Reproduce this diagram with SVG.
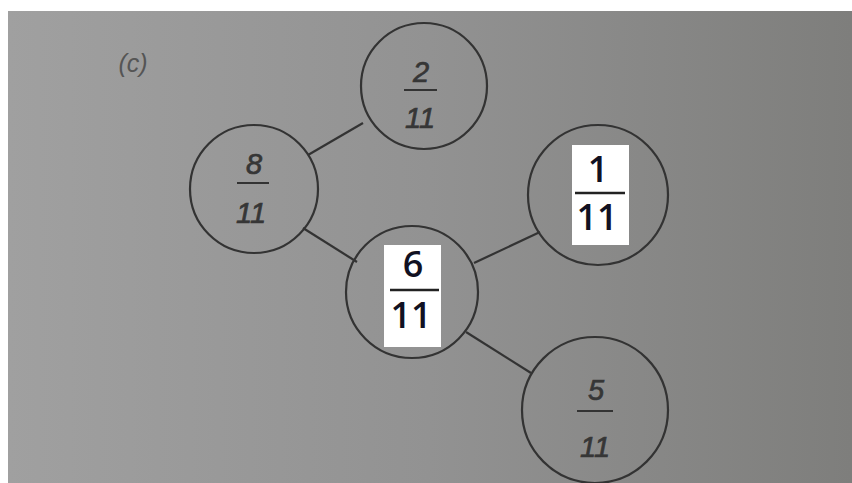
<svg xmlns="http://www.w3.org/2000/svg" width="852" height="483" viewBox="0 0 852 483">
  <defs>
    <linearGradient id="paper" x1="0" y1="0" x2="1" y2="0">
      <stop offset="0" stop-color="#a0a0a0"/>
      <stop offset="0.5" stop-color="#929292"/>
      <stop offset="1" stop-color="#7e7e7c"/>
    </linearGradient>
    <style>
      .ring { fill: none; stroke: #333333; stroke-width: 2.2; }
      .edge { stroke: #333333; stroke-width: 2.2; }
      .hand { font-family: "Liberation Sans", "DejaVu Sans", sans-serif; font-style: italic; font-size: 29px; fill: #363636; stroke: #363636; stroke-width: 0.7; text-anchor: middle; }
      .bar { stroke: #333333; stroke-width: 2; }
      .card { fill: #ffffff; }
      .print { font-family: "Open Sans", "Liberation Sans", sans-serif; font-size: 36px; fill: #111122; text-anchor: middle; font-weight: 600; }
      .pbar { stroke: #222222; stroke-width: 2.5; }
    </style>
  </defs>

  <!-- page -->
  <rect x="0" y="0" width="852" height="483" fill="#ffffff"/>
  <rect x="8" y="11" width="844" height="472" fill="url(#paper)"/>

  <text x="133" y="72" font-family="Liberation Sans, sans-serif" font-style="italic" font-size="25" fill="#555555" text-anchor="middle">(c)</text>

  <!-- connectors -->
  <g id="connectors">
    <line class="edge" x1="308" y1="155" x2="363" y2="123"/>
    <line class="edge" x1="303" y1="228" x2="357" y2="262"/>
    <line class="edge" x1="474" y1="263" x2="540" y2="232"/>
    <line class="edge" x1="466" y1="332" x2="531" y2="373"/>
  </g>

  <g id="node-2-11">
    <circle class="ring" cx="424" cy="86" r="63"/>
    <text class="hand" x="421" y="82">2</text>
    <line class="bar" x1="404" y1="90" x2="437" y2="90"/>
    <text class="hand" x="420" y="128">11</text>
  </g>

  <g id="node-8-11">
    <circle class="ring" cx="254" cy="189" r="64"/>
    <text class="hand" x="254" y="174">8</text>
    <line class="bar" x1="237" y1="183" x2="269" y2="183"/>
    <text class="hand" x="251" y="223">11</text>
  </g>

  <g id="node-6-11">
    <circle class="ring" cx="412" cy="292" r="66"/>
    <rect class="card" x="384" y="245" width="57" height="102"/>
    <text class="print" x="413" y="277">6</text>
    <line class="pbar" x1="390" y1="290" x2="439" y2="290"/>
    <text class="print" x="411" y="328">11</text>
  </g>

  <g id="node-1-11">
    <circle class="ring" cx="598" cy="195" r="70"/>
    <rect class="card" x="572" y="145" width="57" height="100"/>
    <text class="print" x="598" y="182">1</text>
    <line class="pbar" x1="575" y1="193" x2="625" y2="193"/>
    <text class="print" x="597" y="230">11</text>
  </g>

  <g id="node-5-11">
    <circle class="ring" cx="595" cy="410" r="73"/>
    <text class="hand" x="596" y="400">5</text>
    <line class="bar" x1="577" y1="411" x2="613" y2="411"/>
    <text class="hand" x="595" y="457">11</text>
  </g>
</svg>
